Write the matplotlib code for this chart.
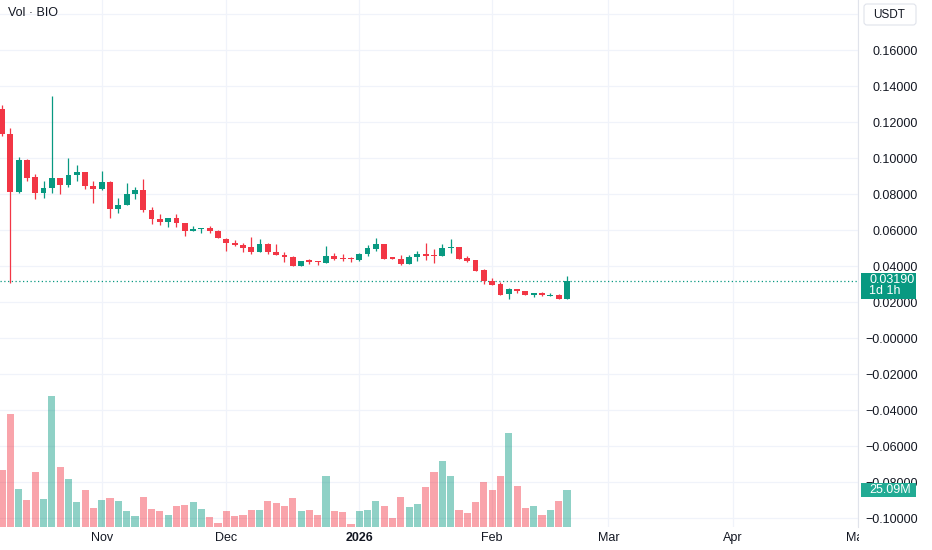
import matplotlib
matplotlib.use('Agg')
import matplotlib.pyplot as plt
import numpy as np
from matplotlib.patches import Rectangle, FancyBboxPatch
from matplotlib.transforms import Bbox, IdentityTransform

plt.rcParams['font.family'] = ['Liberation Sans', 'DejaVu Sans']

# 2-day candles, BIO/USDT, Oct 7 2025 .. Feb 20 2026
opens = [0.1272, 0.1135, 0.0814, 0.0991, 0.0894, 0.0806, 0.0833, 0.0889, 0.0852, 0.0907,
         0.0922, 0.0846, 0.0828, 0.0870, 0.0718, 0.0741, 0.0803, 0.0826, 0.0713, 0.0663,
         0.0648, 0.0667, 0.0639, 0.0594, 0.0607, 0.0611, 0.0598, 0.0552, 0.0531, 0.0518,
         0.0506, 0.0478, 0.0524, 0.0479, 0.0463, 0.0450, 0.0400, 0.0433, 0.0426, 0.0420,
         0.0457, 0.0444, 0.0442, 0.0433, 0.0467, 0.0496, 0.0522, 0.0450, 0.0439, 0.0411,
         0.0450, 0.0468, 0.0463, 0.0457, 0.0500, 0.0506, 0.0444, 0.0435, 0.0379, 0.0320,
         0.0302, 0.0244, 0.0272, 0.0263, 0.0241, 0.0252, 0.0237, 0.0239, 0.0220]
highs = [0.1296, 0.1167, 0.1009, 0.0994, 0.0911, 0.0876, 0.1346, 0.0889, 0.1000, 0.0963,
         0.0926, 0.0874, 0.0929, 0.0874, 0.0778, 0.0861, 0.0839, 0.0883, 0.0728, 0.0689,
         0.0667, 0.0689, 0.0642, 0.0624, 0.0611, 0.0624, 0.0602, 0.0556, 0.0546, 0.0528,
         0.0561, 0.0550, 0.0531, 0.0524, 0.0479, 0.0459, 0.0431, 0.0439, 0.0429, 0.0513,
         0.0472, 0.0467, 0.0450, 0.0476, 0.0518, 0.0559, 0.0522, 0.0453, 0.0463, 0.0463,
         0.0487, 0.0528, 0.0494, 0.0524, 0.0550, 0.0509, 0.0457, 0.0435, 0.0385, 0.0333,
         0.0311, 0.0281, 0.0272, 0.0264, 0.0252, 0.0259, 0.0250, 0.0246, 0.0348]
lows = [0.1126, 0.0306, 0.0806, 0.0876, 0.0776, 0.0778, 0.0809, 0.0800, 0.0842, 0.0874,
        0.0828, 0.0750, 0.0824, 0.0667, 0.0694, 0.0741, 0.0772, 0.0703, 0.0633, 0.0629,
        0.0620, 0.0620, 0.0570, 0.0594, 0.0583, 0.0587, 0.0556, 0.0487, 0.0513, 0.0481,
        0.0467, 0.0478, 0.0467, 0.0461, 0.0426, 0.0402, 0.0400, 0.0411, 0.0407, 0.0420,
        0.0435, 0.0429, 0.0426, 0.0429, 0.0457, 0.0487, 0.0439, 0.0439, 0.0407, 0.0411,
        0.0431, 0.0435, 0.0420, 0.0457, 0.0476, 0.0439, 0.0426, 0.0376, 0.0300, 0.0296,
        0.0241, 0.0218, 0.0250, 0.0241, 0.0231, 0.0237, 0.0237, 0.0220, 0.0220]
closes = [0.1135, 0.0814, 0.0991, 0.0892, 0.0809, 0.0837, 0.0889, 0.0852, 0.0907, 0.0922,
          0.0846, 0.0828, 0.0870, 0.0718, 0.0741, 0.0803, 0.0826, 0.0713, 0.0663, 0.0648,
          0.0667, 0.0642, 0.0598, 0.0607, 0.0611, 0.0596, 0.0556, 0.0528, 0.0518, 0.0503,
          0.0481, 0.0524, 0.0481, 0.0461, 0.0452, 0.0402, 0.0431, 0.0424, 0.0422, 0.0459,
          0.0441, 0.0439, 0.0439, 0.0468, 0.0500, 0.0522, 0.0442, 0.0439, 0.0411, 0.0450,
          0.0468, 0.0459, 0.0459, 0.0500, 0.0506, 0.0442, 0.0431, 0.0376, 0.0318, 0.0296,
          0.0241, 0.0272, 0.0263, 0.0241, 0.0252, 0.0241, 0.0242, 0.0220, 0.0319]
# volume in millions
volumes = [38.9, 76.9, 26.0, 18.6, 37.6, 19.3, 88.8, 40.7, 32.3, 16.7,
           25.4, 12.9, 18.1, 19.7, 17.4, 10.6, 7.3, 20.3, 12.2, 10.6,
           8.4, 14.2, 14.7, 16.7, 12.5, 6.8, 3.0, 10.8, 7.3, 8.4,
           11.5, 11.5, 17.4, 16.3, 14.0, 19.5, 10.8, 11.8, 8.4, 34.4,
           10.8, 10.0, 2.3, 10.8, 11.8, 17.4, 14.2, 6.1, 20.6, 13.6,
           15.6, 27.1, 37.3, 44.7, 34.6, 11.8, 9.5, 17.0, 30.5, 25.1,
           34.8, 64.0, 28.1, 13.2, 14.5, 8.1, 11.8, 17.4, 25.09]

month_bars = [12, 27, 43, 59, 73, 88, 103]
month_labels = ['Nov', 'Dec', '2026', 'Feb', 'Mar', 'Apr', 'May']
price_ticks = [0.18, 0.16, 0.14, 0.12, 0.10, 0.08, 0.06, 0.04, 0.02, 0.0,
               -0.02, -0.04, -0.06, -0.08, -0.10]
price_labels = ['', '0.16000', '0.14000', '0.12000', '0.10000', '0.08000', '0.06000',
                '0.04000', '0.02000', '\u22120.00000', '\u22120.02000', '\u22120.04000',
                '\u22120.06000', '\u22120.08000', '\u22120.10000']
countdown = '1d 1h'

RED = '#F23645'
GREEN = '#089981'
TXT = '#131722'
GRID = '#F0F3FA'

W, H = 932, 550
fig = plt.figure(figsize=(W / 100, H / 100), dpi=100)
ax = fig.add_axes([0, 23 / H, 858 / W, 527 / H])
ax2 = ax.twinx()
ax.yaxis.tick_right()

o = np.array(opens); c = np.array(closes)
hi = np.array(highs); lo = np.array(lows)
x = np.arange(len(o))
cols = np.where(c >= o, GREEN, RED)

# volume
ax2.bar(x, volumes, width=0.86, color=cols, alpha=0.45, linewidth=0)
ax2.set_ylim(0, 357.3)
ax2.yaxis.set_visible(False)
for s in ax2.spines.values():
    s.set_visible(False)

# candles
ax.vlines(x, lo, hi, colors=cols, lw=0.9, zorder=3)
body_h = np.maximum(np.abs(c - o), 0.0005)
ax.bar(x, body_h, bottom=np.minimum(o, c), width=0.7, color=cols, linewidth=0, zorder=4)
ax.axhline(c[-1], color=GREEN, lw=0.9, ls=(0, (1, 2)), zorder=2)

ax.set_xlim(-2 / 8.308, 856 / 8.308)
ax.set_ylim(-0.10483, 0.18794)
ax.set_axisbelow(True)
ax.set_yticks(price_ticks, price_labels)
ax.set_xticks(month_bars, month_labels)
ax.grid(color=GRID, lw=0.9)
ax.tick_params(axis='y', length=0, pad=43, labelsize=9, labelcolor=TXT)
ax.tick_params(axis='x', length=0, pad=3.5, labelsize=9, labelcolor=TXT)
for t in ax.get_yticklabels():
    t.set_horizontalalignment('right')
for t in ax.get_xticklabels():
    if t.get_text() == '2026':
        t.set_fontweight('bold')
may = ax.get_xticklabels()[-1]
may.set_clip_on(True)
may.set_clip_box(Bbox.from_extents(0, 0, 859, H))
for k, s in ax.spines.items():
    s.set_visible(k == 'right')
ax.spines['right'].set_color('#E0E3EB')
ax.spines['right'].set_linewidth(0.8)

fig.text(8 / W, 1 - 13.5 / H, 'Vol \u00b7 BIO', fontsize=9, color=TXT, va='center', ha='left')

# USDT box
ident = IdentityTransform()
fig.add_artist(FancyBboxPatch((864, H - 25), 52, 21, boxstyle='round,pad=0,rounding_size=3',
                              transform=ident, fc='white', ec='#E0E3EB', lw=0.8))
fig.text(873 / W, 1 - 14.5 / H, 'USDT', fontsize=8.5, color=TXT, va='center', ha='left')

# last price label
py = ax.transData.transform((0, c[-1]))[1]
fig.add_artist(Rectangle((861, py - 18), 55, 26, transform=ident, fc=GREEN, ec='none', zorder=5))
fig.text(869 / W, (py + 1) / H, '%.5f' % c[-1], fontsize=9, color='white', va='center', ha='left', zorder=6)
fig.text(869 / W, (py - 10.5) / H, countdown, fontsize=9, color='white', va='center', ha='left', zorder=6)

# last volume label
vy = ax2.transData.transform((0, volumes[-1]))[1]
fig.add_artist(Rectangle((861, vy - 7), 55, 14, transform=ident, fc='#22AB94', ec='none', zorder=5))
fig.text(869 / W, vy / H, '%.2fM' % volumes[-1], fontsize=9, color='white', va='center', ha='left', zorder=6)

fig.savefig('out.png', dpi=100, facecolor='white')
